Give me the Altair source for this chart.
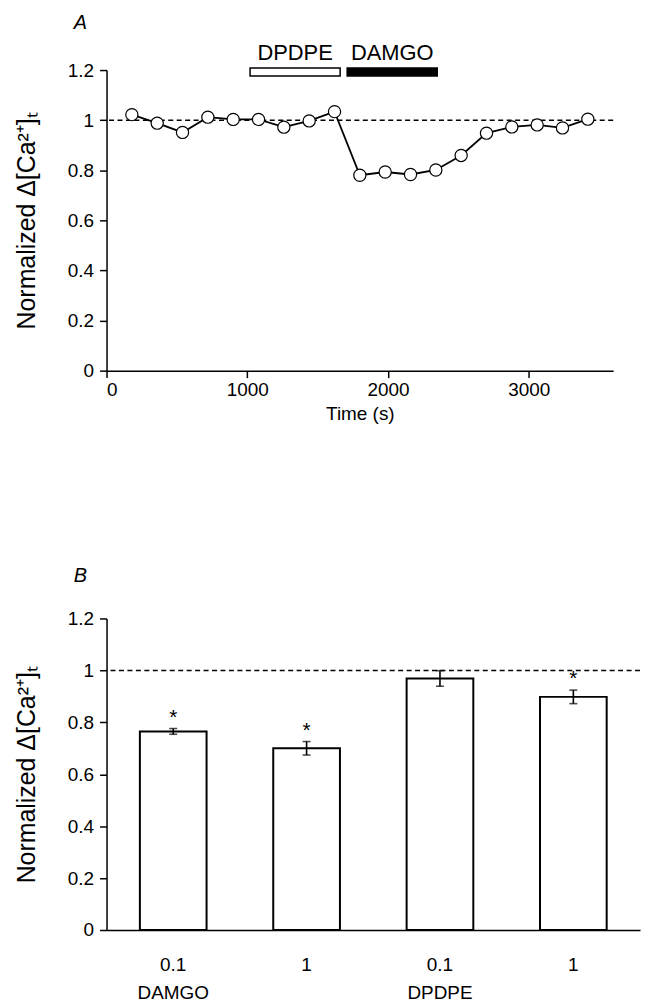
import altair as alt
import pandas as pd

FONT = "Liberation Sans"

# ---------------- Panel A data ----------------
time_s = [180, 360, 540, 720, 900, 1080, 1260, 1440, 1620, 1800,
          1980, 2160, 2340, 2520, 2700, 2880, 3060, 3240, 3420]
norm_ca = [1.022, 0.988, 0.951, 1.012, 1.003, 1.003, 0.972, 0.997, 1.034, 0.78,
           0.793, 0.783, 0.801, 0.859, 0.948, 0.973, 0.981, 0.969, 1.004]

treat_names = ["DPDPE", "DAMGO"]
treat_start = [1020, 1710]
treat_end = [1660, 2350]

# ---------------- Panel B data ----------------
conc = ["0.1", "1", "0.1", "1"]
drug = ["DAMGO", "DAMGO", "DPDPE", "DPDPE"]
mean_ca = [0.765, 0.700, 0.969, 0.898]
sem_ca = [0.011, 0.026, 0.030, 0.026]
signif = ["*", "*", "", "*"]

YTITLE = "Normalized \u0394[Ca\u00b2\u207a]\u209c"

df_a = pd.DataFrame({"time": time_s, "value": norm_ca})
df_t = pd.DataFrame({"name": treat_names, "start": treat_start, "end": treat_end})
df_b = pd.DataFrame({"conc": conc, "drug": drug, "mean": mean_ca, "sem": sem_ca, "sig": signif})
df_b["key"] = df_b["conc"] + "|" + df_b["drug"]
df_b["lo"] = df_b["mean"] - df_b["sem"]
df_b["hi"] = df_b["mean"] + df_b["sem"]
df_ref = pd.DataFrame({"y": [1.0]})

yvals = [0, 0.2, 0.4, 0.6, 0.8, 1.0, 1.2]

def y_axis():
    return alt.Axis(values=yvals, format="~g", title=YTITLE, titlePadding=28,
                    titleFontSize=25, labelPadding=6)

yscale = alt.Scale(domain=[0, 1.2], nice=False, zero=False)

# ---------------- Panel A ----------------
xa = alt.X("time:Q", scale=alt.Scale(domain=[0, 3600], nice=False),
           axis=alt.Axis(values=[0, 1000, 2000, 3000], format="d", title="Time (s)",
                         labelPadding=3, titlePadding=5))
ya = alt.Y("value:Q", scale=yscale, axis=y_axis())

ref_a = alt.Chart(df_ref).mark_rule(color="black", strokeDash=[5, 3.5], strokeWidth=1.5).encode(
    y=alt.Y("y:Q", scale=yscale, axis=y_axis()))
line_a = alt.Chart(df_a).mark_line(color="black", strokeWidth=1.8).encode(x=xa, y=ya)
pts_a = alt.Chart(df_a).mark_point(shape="circle", filled=True, fill="white", stroke="black",
                                   strokeWidth=1.2, size=150, opacity=1).encode(x="time:Q", y="value:Q")
rect_t = alt.Chart(df_t).mark_rect(stroke="black", strokeWidth=1.5).encode(
    x="start:Q", x2="end:Q", y=alt.datum(1.176), y2=alt.datum(1.208),
    fill=alt.Fill("name:N", scale=alt.Scale(domain=["DPDPE", "DAMGO"], range=["white", "black"]), legend=None))
text_t = alt.Chart(df_t).transform_calculate(mid="(datum.start + datum.end) / 2").mark_text(
    font=FONT, fontSize=22, baseline="alphabetic", color="black").encode(
    x="mid:Q", y=alt.datum(1.24), text="name:N")

top = alt.layer(ref_a, line_a, pts_a, rect_t, text_t).properties(
    width=509, height=302,
    title=alt.TitleParams("A", anchor="start", frame="group", fontStyle="italic", fontWeight="normal",
                          fontSize=20, font=FONT, dx=-33, offset=9))

# ---------------- Panel B ----------------
label_expr = ("split(datum.value, '|')[0] == '0.1' ? split(datum.value, '|') : split(datum.value, '|')[0]")
xb = alt.X("key:N", sort=list(df_b["key"]),
           scale=alt.Scale(paddingInner=0.5, paddingOuter=0.25),
           axis=alt.Axis(title=None, ticks=False, labelAngle=0, labelExpr=label_expr,
                         labelPadding=26, labelLineHeight=28, labelBaseline="top"))
yb = alt.Y("mean:Q", scale=yscale, axis=y_axis())

ref_b = alt.Chart(df_ref).mark_rule(color="black", strokeDash=[5, 3.5], strokeWidth=1.5).encode(
    y=alt.Y("y:Q", scale=yscale, axis=y_axis()))
bars = alt.Chart(df_b).mark_bar(fill="white", stroke="black", strokeWidth=2).encode(x=xb, y=yb)
err = alt.Chart(df_b).mark_rule(color="black", strokeWidth=1.6).encode(
    x=alt.X("key:N", sort=list(df_b["key"])), y="lo:Q", y2="hi:Q")
cap_lo = alt.Chart(df_b).mark_tick(color="black", thickness=1.6, size=8).encode(
    x=alt.X("key:N", sort=list(df_b["key"])), y="lo:Q")
cap_hi = alt.Chart(df_b).mark_tick(color="black", thickness=1.6, size=8).encode(
    x=alt.X("key:N", sort=list(df_b["key"])), y="hi:Q")
stars = alt.Chart(df_b).mark_text(font=FONT, fontSize=21, baseline="alphabetic", dy=-5, color="black").encode(
    x=alt.X("key:N", sort=list(df_b["key"])), y="hi:Q", text="sig:N")

bottom = alt.layer(ref_b, bars, err, cap_lo, cap_hi, stars).properties(
    width=536, height=313,
    title=alt.TitleParams("B", anchor="start", frame="group", fontStyle="italic", fontWeight="normal",
                          fontSize=20, font=FONT, dx=-33, offset=24))

chart = alt.vconcat(top, bottom, spacing=143).properties(
    padding={"left": 6, "top": 2, "right": 5, "bottom": 0}
).configure_view(stroke=None).configure_axis(
    labelFont=FONT, titleFont=FONT, labelFontSize=19, titleFontSize=19,
    labelColor="black", titleColor="black", titleFontWeight="normal",
    domainColor="black", tickColor="black", domainWidth=1.5, tickWidth=1.5,
    tickSize=7, grid=False
)

chart.save("out.html", embed_options={"renderer": "svg", "actions": False})
